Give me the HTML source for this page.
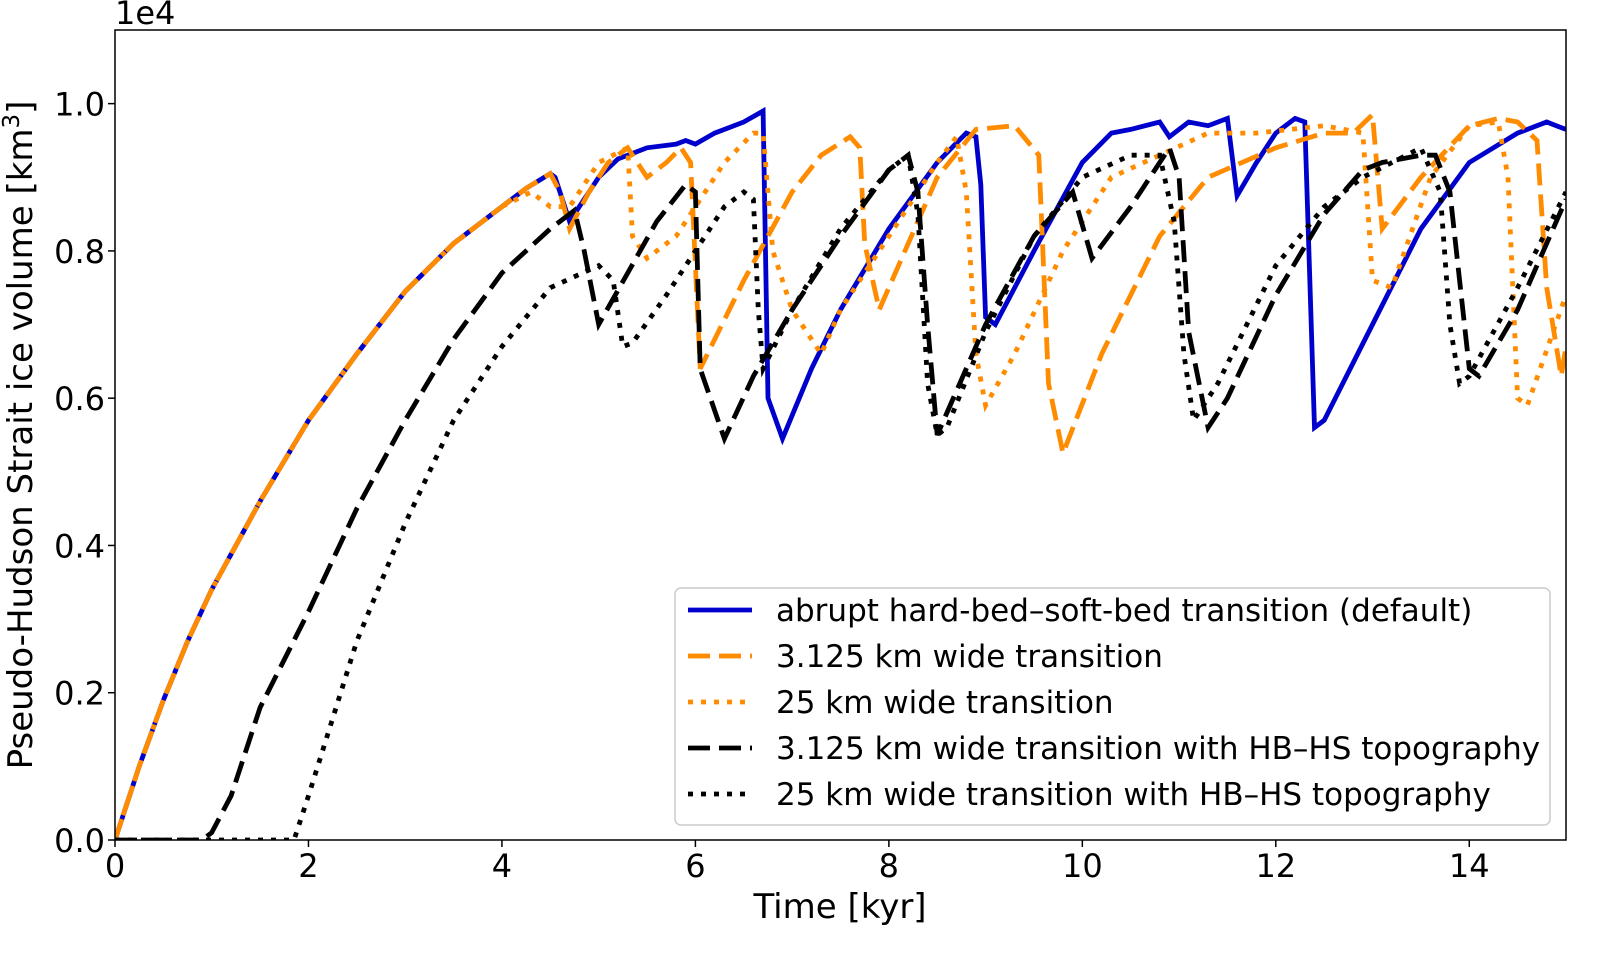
<!DOCTYPE html>
<html><head><meta charset="utf-8"><style>
body{margin:0;background:#fff;}
svg text{font-family:"DejaVu Sans","Liberation Sans",sans-serif;fill:#000;}
</style></head><body>
<svg id="chart" width="1608" height="951" viewBox="0 0 1608 951" xmlns="http://www.w3.org/2000/svg">
<g id="series"></g>
<rect x="115" y="30" width="1451" height="810" fill="none" stroke="#000" stroke-width="1.5"/>
<g id="axes"></g>
<text x="115" y="24" font-size="32">1e4</text>
<text x="840" y="918" font-size="34" text-anchor="middle">Time [kyr]</text>
<text transform="translate(32,435) rotate(-90)" font-size="34" text-anchor="middle">Pseudo-Hudson Strait ice volume [km<tspan font-size="23" dy="-13">3</tspan><tspan dy="13">]</tspan></text>
<g id="legend">
<rect x="675" y="588" width="875" height="237" rx="6" fill="#fff" fill-opacity="0.85" stroke="#ccc" stroke-width="1.5"/>
</g>
</svg>
<script>
const xTicks=[0,2,4,6,8,10,12,14];
const yTicks=[0,0.2,0.4,0.6,0.8,1.0];
const seriesNames=["abrupt hard-bed–soft-bed transition (default)","3.125 km wide transition","25 km wide transition","3.125 km wide transition with HB–HS topography","25 km wide transition with HB–HS topography"];
const baseT=[0,0.25,0.5,0.75,1,1.5,2,2.5,3,3.5,4,4.25,4.5];
const baseV=[0,0.1,0.19,0.27,0.34,0.46,0.57,0.66,0.745,0.81,0.86,0.885,0.905];
const blueT=baseT.concat([4.55,4.7,4.8,5.0,5.2,5.5,5.8,5.9,6.0,6.2,6.5,6.7,6.75,6.9,7.2,7.5,8,8.5,8.8,8.9,8.95,9.0,9.1,9.5,10,10.3,10.5,10.8,10.9,11.1,11.3,11.5,11.6,11.8,12,12.2,12.3,12.4,12.5,13,13.5,14,14.5,14.8,14.9,15]);
const blueV=baseV.concat([0.9,0.84,0.86,0.9,0.925,0.94,0.945,0.95,0.945,0.96,0.975,0.99,0.6,0.545,0.64,0.72,0.83,0.92,0.96,0.955,0.89,0.71,0.70,0.8,0.92,0.96,0.965,0.975,0.955,0.975,0.97,0.98,0.875,0.92,0.96,0.98,0.975,0.56,0.57,0.7,0.83,0.92,0.96,0.975,0.97,0.965]);
const orDashT=baseT.concat([4.6,4.7,4.9,5.1,5.3,5.5,5.7,5.85,5.95,6.05,6.5,7,7.3,7.6,7.7,7.75,7.9,8.5,8.9,9.3,9.55,9.65,9.8,10.2,10.8,11.3,12,12.5,12.8,13.0,13.1,13.5,14,14.3,14.5,14.7,14.8,14.95,15]);
const orDashV=baseV.concat([0.88,0.83,0.88,0.92,0.94,0.9,0.92,0.94,0.92,0.64,0.76,0.88,0.93,0.955,0.94,0.81,0.72,0.9,0.965,0.97,0.93,0.62,0.525,0.66,0.82,0.9,0.94,0.96,0.96,0.985,0.83,0.9,0.97,0.98,0.975,0.95,0.75,0.63,0.67]);
const orDotT=[0,0.25,0.5,0.75,1,1.5,2,2.5,3,3.5,4,4.3,4.5,4.7,5.0,5.3,5.35,5.5,5.8,6.3,6.6,6.7,6.8,7.0,7.3,7.5,8,8.5,8.7,8.8,8.9,9.0,9.3,9.8,10.3,10.8,11.3,11.8,12.5,12.9,13.0,13.2,13.6,14.0,14.3,14.4,14.5,14.6,15];
const orDotV=[0,0.1,0.19,0.27,0.34,0.46,0.57,0.66,0.745,0.81,0.86,0.88,0.86,0.86,0.92,0.94,0.82,0.79,0.82,0.92,0.96,0.96,0.8,0.72,0.66,0.72,0.82,0.92,0.955,0.88,0.66,0.59,0.66,0.8,0.9,0.93,0.96,0.96,0.97,0.96,0.76,0.75,0.9,0.97,0.975,0.9,0.6,0.59,0.74];
const bkDashT=[0,0.9,1.0,1.2,1.5,2,2.5,3,3.5,4,4.5,4.75,4.85,5.0,5.3,5.6,5.9,6.0,6.05,6.3,6.6,7,7.5,8,8.2,8.3,8.4,8.5,9,9.5,9.9,10.1,10.5,10.9,11.0,11.1,11.3,11.5,12,12.5,12.9,13.1,13.5,13.65,13.8,13.9,14.0,14.1,14.5,15];
const bkDashV=[0,0,0.01,0.06,0.18,0.31,0.45,0.57,0.68,0.77,0.83,0.855,0.8,0.70,0.77,0.84,0.89,0.88,0.64,0.545,0.63,0.72,0.82,0.91,0.93,0.88,0.7,0.55,0.7,0.82,0.88,0.79,0.86,0.94,0.9,0.69,0.56,0.6,0.74,0.85,0.91,0.92,0.93,0.93,0.88,0.76,0.64,0.63,0.72,0.87];
const bkDotT=[0,1.85,2.0,2.5,3,3.5,4,4.5,5.0,5.15,5.25,5.35,5.7,6.0,6.3,6.5,6.6,6.65,6.7,7,7.5,8,8.2,8.3,8.4,8.5,8.6,9,9.5,10,10.5,10.8,10.95,11.05,11.15,11.4,12,12.5,12.9,13.5,13.7,13.8,13.9,14.0,14.5,15];
const bkDotV=[0,0,0.06,0.27,0.43,0.57,0.67,0.75,0.78,0.76,0.67,0.675,0.74,0.8,0.86,0.88,0.87,0.72,0.64,0.72,0.83,0.91,0.93,0.85,0.62,0.55,0.56,0.69,0.82,0.9,0.93,0.93,0.84,0.66,0.57,0.62,0.78,0.86,0.9,0.94,0.88,0.7,0.62,0.63,0.75,0.88];

const X0=115,X1=1566,Y0=840,Y1=30;
function xs(t){return X0+(t/15)*(X1-X0);}
function ys(v){return Y0-(v/1.1)*(Y0-Y1);}
const NS="http://www.w3.org/2000/svg";
function mk(tag,attrs,parent){const e=document.createElementNS(NS,tag);for(const k in attrs)e.setAttribute(k,attrs[k]);parent.appendChild(e);return e;}
const styles=[
 {c:"#0000cc",d:"",n:"series-abrupt-default"},
 {c:"#ff8c00",d:"22,9",n:"series-3125km-transition"},
 {c:"#ff8c00",d:"5,8",n:"series-25km-transition"},
 {c:"#000",d:"22,9",n:"series-3125km-hbhs"},
 {c:"#000",d:"5,8",n:"series-25km-hbhs"}];
const data=[[blueT,blueV],[orDashT,orDashV],[orDotT,orDotV],[bkDashT,bkDashV],[bkDotT,bkDotV]];
const sg=document.getElementById('series');
const defs=mk('defs',{},document.getElementById('chart'));
const cp=mk('clipPath',{id:'clip'},defs);mk('rect',{x:X0,y:Y1,width:X1-X0,height:Y0-Y1},cp);
[0,1,2,3,4].forEach(i=>{
 const [T,V]=data[i];
 const p=T.map((t,j)=>(j?'L':'M')+xs(t).toFixed(1)+','+ys(V[j]).toFixed(1)).join('');
 const el=mk('path',{d:p,fill:'none',stroke:styles[i].c,'stroke-width':4.8,'stroke-dasharray':styles[i].d,'clip-path':'url(#clip)'},sg);
 
 
});
const ax=document.getElementById('axes');
xTicks.forEach(t=>{
 mk('line',{x1:xs(t),x2:xs(t),y1:Y0,y2:Y0+7,stroke:'#000','stroke-width':1.5},ax);
 const tx=mk('text',{x:xs(t),y:Y0+37,'font-size':32,'text-anchor':'middle'},ax);
 tx.textContent=t;
 
 
});
yTicks.forEach(v=>{
 mk('line',{x1:X0-7,x2:X0,y1:ys(v),y2:ys(v),stroke:'#000','stroke-width':1.5},ax);
 const tx=mk('text',{x:X0-10,y:ys(v)+12,'font-size':32,'text-anchor':'end'},ax);
 tx.textContent=v.toFixed(1);
 
 
});
const lg=document.getElementById('legend');
seriesNames.forEach((n,i)=>{
 const y=610+i*46;
 mk('line',{x1:688,x2:752,y1:y,y2:y,stroke:styles[i].c,'stroke-width':4.8,'stroke-dasharray':styles[i].d},lg);
 const tx=mk('text',{x:776,y:y+11,'font-size':31},lg);
 tx.textContent=n;
 
 
});
</script>
</body></html>
